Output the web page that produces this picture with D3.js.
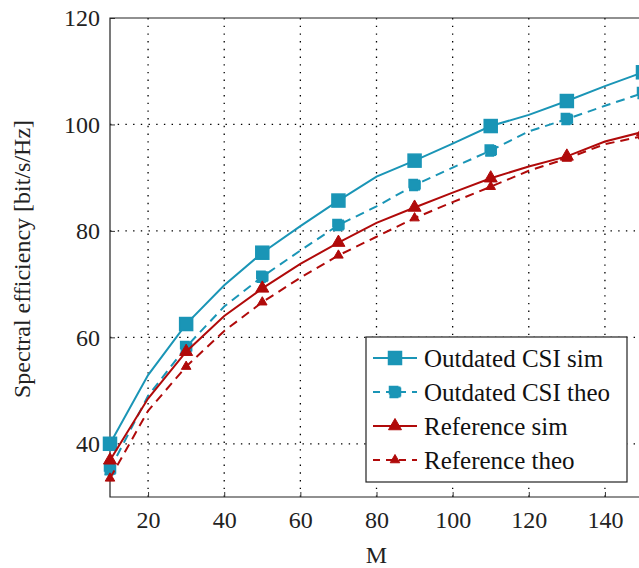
<!DOCTYPE html>
<html>
<head>
<meta charset="utf-8">
<script src="https://cdn.jsdelivr.net/npm/d3@7"></script>
<style>
  body { margin: 0; background: #fff; }
  svg { display: block; font-family: "Liberation Serif", "DejaVu Serif", serif; }
</style>
</head>
<body>
<svg id="chart" width="639" height="568"></svg>
<script>
/**
 * Data.
 */
const mValues = [10, 20, 30, 40, 50, 60, 70, 80, 90, 100, 110, 120, 130, 140, 150];

const outdatedSim = [40.0, 52.9, 62.5, 69.8, 75.9, 80.9, 85.7, 90.2, 93.2, 96.4, 99.7, 101.8, 104.4, 107.2, 109.8];
const outdatedTheo = [35.2, 49.0, 58.2, 65.8, 71.4, 76.3, 81.1, 84.6, 88.6, 91.9, 95.1, 98.7, 101.0, 103.5, 105.9];
const referenceSim = [36.9, 48.5, 57.3, 64.0, 69.2, 73.8, 77.8, 81.5, 84.4, 87.2, 89.9, 92.1, 94.0, 96.8, 98.6];
const referenceTheo = [33.5, 46.2, 54.5, 61.2, 66.6, 71.2, 75.4, 78.9, 82.4, 85.4, 88.3, 91.3, 93.6, 96.3, 97.8];

const xTicks = [20, 40, 60, 80, 100, 120, 140];
const yTicks = [40, 60, 80, 100, 120];

const series = [
    { name: 'Outdated CSI sim', values: outdatedSim, color: '#1a95b6', dash: null, mark: 'square' },
    { name: 'Outdated CSI theo', values: outdatedTheo, color: '#1a95b6', dash: '9,6', mark: 'square' },
    { name: 'Reference sim', values: referenceSim, color: '#b00a0a', dash: null, mark: 'triangle' },
    { name: 'Reference theo', values: referenceTheo, color: '#b00a0a', dash: '9,6', mark: 'triangle' }
];

/**
 * Layout.
 */
const margin = { top: 18, left: 110 },
    plotRight = 643, plotBottom = 497;

const svg = d3.select('#chart');

const xScale = d3.scaleLinear().domain([10, 150]).range([margin.left, plotRight]),
    yScale = d3.scaleLinear().domain([30, 120]).range([plotBottom, margin.top]);

// Grid
const grid = svg.append('g').attr('class', 'grid')
    .attr('stroke', '#000').attr('stroke-width', 1.3).attr('stroke-dasharray', '1.4,6.3');
grid.selectAll('line.v').data(xTicks).join('line')
    .attr('class', 'v')
    .attr('x1', d => xScale(d)).attr('x2', d => xScale(d))
    .attr('y1', margin.top).attr('y2', plotBottom);
grid.selectAll('line.h').data(yTicks.filter(d => d < 120)).join('line')
    .attr('class', 'h')
    .attr('x1', margin.left).attr('x2', plotRight)
    .attr('y1', d => yScale(d)).attr('y2', d => yScale(d));

// Axes
const xAxis = d3.axisBottom(xScale).tickValues(xTicks).tickSize(-5).tickPadding(14),
    yAxis = d3.axisLeft(yScale).tickValues(yTicks).tickSize(-5).tickPadding(10);

const xAxisG = svg.append('g').attr('transform', 'translate(0,' + plotBottom + ')').call(xAxis);
const yAxisG = svg.append('g').attr('transform', 'translate(' + margin.left + ',0)').call(yAxis);

[xAxisG, yAxisG].forEach(g => {
    g.select('.domain').remove();
    g.selectAll('.tick line').attr('stroke', '#333').attr('stroke-width', 1);
    g.selectAll('.tick text').attr('font-size', 24).attr('fill', '#222')
        .attr('font-family', '"Liberation Serif", serif');
});
xAxisG.selectAll('.tick text').attr('dy', '0.71em');

// Frame (left, bottom, top)
svg.append('path')
    .attr('d', 'M' + plotRight + ',' + margin.top + 'H' + margin.left + 'V' + plotBottom + 'H' + plotRight)
    .attr('fill', 'none').attr('stroke', '#222').attr('stroke-width', 1.2);

// Axis titles
svg.append('text')
    .attr('x', xScale(80)).attr('y', 563)
    .attr('text-anchor', 'middle').attr('font-size', 24).attr('fill', '#222')
    .text('M');
svg.append('text')
    .attr('transform', 'translate(30,' + 259 + ') rotate(-90)')
    .attr('text-anchor', 'middle').attr('font-size', 24).attr('fill', '#222')
    .text('Spectral efficiency [bit/s/Hz]');

/**
 * Marks.
 */
const line = d3.line()
    .x((d, i) => xScale(mValues[i]))
    .y(d => yScale(d));

function drawMark(g, s, cx, cy) {
    const theo = !!s.dash;
    if (s.mark === 'square') {
        const size = theo ? 11 : 13;
        g.append('rect')
            .attr('x', cx - size / 2).attr('y', cy - size / 2)
            .attr('width', size).attr('height', size)
            .attr('fill', s.color)
            .attr('stroke', s.color).attr('stroke-width', 1.5)
            .attr('stroke-dasharray', theo ? '9,3' : null);
    } else {
        const r = theo ? 5.5 : 7.5;
        g.append('path')
            .attr('d', d3.symbol(d3.symbolTriangle, r * r * 1.3)())
            .attr('transform', 'translate(' + cx + ',' + cy + ')')
            .attr('fill', s.color)
            .attr('stroke', s.color).attr('stroke-width', 1);
    }
}

const plot = svg.append('g').attr('class', 'items');

series.forEach(s => {
    plot.append('path')
        .datum(s.values)
        .attr('fill', 'none')
        .attr('stroke', s.color)
        .attr('stroke-width', 2)
        .attr('stroke-dasharray', s.dash)
        .attr('d', line);

    const marks = plot.append('g');
    s.values.forEach((v, i) => {
        if (i % 2 === 0) drawMark(marks, s, xScale(mValues[i]), yScale(v));
    });
});

/**
 * Legend.
 */
const legend = svg.append('g').attr('transform', 'translate(366,337)');
legend.append('rect')
    .attr('width', 261).attr('height', 145)
    .attr('fill', '#fff').attr('stroke', '#222').attr('stroke-width', 1.2);

series.forEach((s, i) => {
    const y = 21 + i * 34;
    const row = legend.append('g');
    row.append('line')
        .attr('x1', 7).attr('x2', 51).attr('y1', y).attr('y2', y)
        .attr('stroke', s.color).attr('stroke-width', 2)
        .attr('stroke-dasharray', s.dash ? '7,6' : null);
    drawMark(row, s, 29, y);
    row.append('text')
        .attr('x', 58).attr('y', y).attr('dy', '0.35em')
        .attr('font-size', 25).attr('fill', '#111')
        .text(s.name);
});
</script>
</body>
</html>
